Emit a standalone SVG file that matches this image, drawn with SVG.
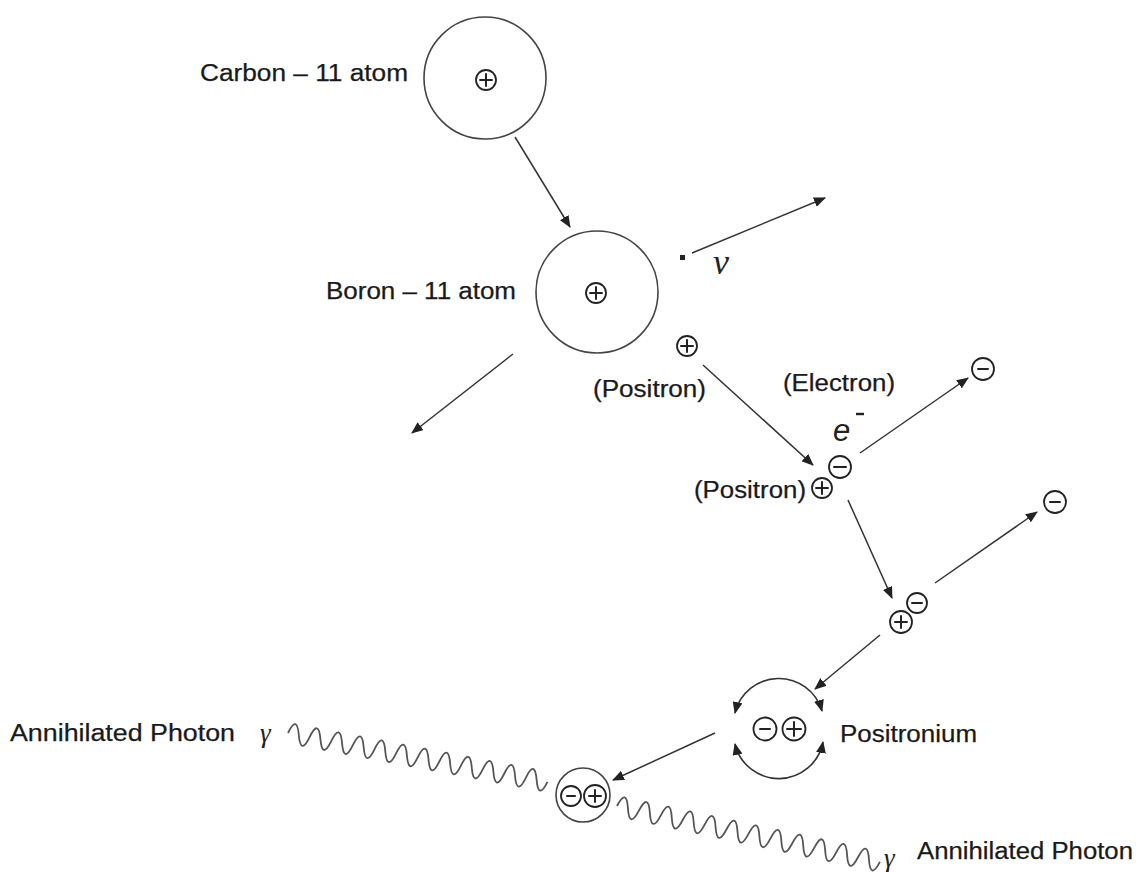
<svg xmlns="http://www.w3.org/2000/svg" width="1141" height="872" viewBox="0 0 1141 872">
  <defs>
    <marker id="head" viewBox="0 0 12 10" refX="11" refY="5" markerWidth="12" markerHeight="10" markerUnits="userSpaceOnUse" orient="auto-start-reverse">
      <path d="M0 0 L12 5 L0 10 Z" fill="#222"/>
    </marker>
    <style>
      .lbl { font-family: "Liberation Sans", Arial, sans-serif; font-size: 23px; fill: #1a1a1a; stroke: #1a1a1a; stroke-width: 0.25; }
      .greek { font-family: "Liberation Serif", "Times New Roman", serif; font-style: italic; fill: #222; }
      .atom { fill: none; stroke: #444; stroke-width: 1.6; }
      .chg { fill: #fff; stroke: #222; stroke-width: 1.8; }
      .sign { stroke: #222; stroke-width: 2; stroke-linecap: round; fill: none; }
      .arrow { stroke: #333; stroke-width: 1.5; fill: none; marker-end: url(#head); }
      .orbit { stroke: #333; stroke-width: 1.6; fill: none; marker-start: url(#head); marker-end: url(#head); }
      .wave { stroke: #555; stroke-width: 1.8; fill: none; stroke-linejoin: round; }
    </style>
  </defs>

  <rect width="1141" height="872" fill="#fff"/>

  <!-- connectors -->
  <g id="connectors">
    <path class="arrow" d="M515 137 L570 227"/>
    <path class="arrow" d="M692 253 L825 198"/>
    <path class="arrow" d="M513 354 L412 433"/>
    <path class="arrow" d="M703 365 L813 465"/>
    <path class="arrow" d="M860 453 L968 378"/>
    <path class="arrow" d="M848 500 L892 598"/>
    <path class="arrow" d="M935 583 L1037 512"/>
    <path class="arrow" d="M880 635 L815 689"/>
    <path class="arrow" d="M715 733 L613 780"/>
    <!-- positronium orbit arcs -->
    <path class="orbit" d="M735 713 A45 45 0 0 1 822 711"/>
    <path class="orbit" d="M735 744 A45 45 0 0 0 823 742"/>
    <!-- photon wave trains -->
    <path class="wave" transform="translate(288 733) rotate(10.67)" d="M0 0 q5.5 -20 11 0 t11 0 t11 0 t11 0 t11 0 t11 0 t11 0 t11 0 t11 0 t11 0 t11 0 t11 0 t11 0 t11 0 t11 0 t11 0 t11 0 t11 0 t11 0 t11 0 t11 0 t11 0 t11 0 t11 0"/>
    <path class="wave" transform="translate(617 806) rotate(12)" d="M0 0 q5.6 -20 11.2 0 t11.2 0 t11.2 0 t11.2 0 t11.2 0 t11.2 0 t11.2 0 t11.2 0 t11.2 0 t11.2 0 t11.2 0 t11.2 0 t11.2 0 t11.2 0 t11.2 0 t11.2 0 t11.2 0 t11.2 0 t11.2 0 t11.2 0 t11.2 0 t11.2 0 t11.2 0 t11.2 0"/>
  </g>

  <!-- Carbon-11 atom -->
  <g id="carbon">
    <circle class="atom" cx="485" cy="78" r="61"/>
    <circle class="chg" cx="486" cy="80" r="10" stroke-width="2.2"/>
    <path class="sign" d="M480 80 H492 M486 74 V86"/>
    <text class="lbl" x="200" y="81" textLength="208" lengthAdjust="spacingAndGlyphs">Carbon – 11 atom</text>
  </g>

  <!-- Boron-11 atom -->
  <g id="boron">
    <circle class="atom" cx="597" cy="292" r="61"/>
    <circle class="chg" cx="596" cy="293" r="10" stroke-width="2.2"/>
    <path class="sign" d="M590 293 H602 M596 287 V299"/>
    <text class="lbl" x="326" y="299" textLength="190" lengthAdjust="spacingAndGlyphs">Boron – 11 atom</text>
  </g>

  <!-- neutrino -->
  <g id="neutrino">
    <rect x="680" y="255" width="5" height="5" fill="#222"/>
    <text class="greek" x="713" y="274" font-size="36">ν</text>
  </g>

  <!-- emitted positron -->
  <g id="positron">
    <circle class="chg" cx="687" cy="346" r="10" stroke-width="1.6"/>
    <path class="sign" d="M681 346 H693 M687 340 V352" stroke-width="1.6"/>
    <text class="lbl" x="593" y="397" textLength="113" lengthAdjust="spacingAndGlyphs">(Positron)</text>
  </g>

  <!-- first positron-electron encounter -->
  <g id="encounter1">
    <circle class="chg" cx="840" cy="467" r="11"/>
    <path class="sign" d="M834 467 H846"/>
    <circle class="chg" cx="822" cy="488" r="10"/>
    <path class="sign" d="M816 488 H828 M822 482 V494"/>
    <text class="lbl" x="783" y="391" textLength="112" lengthAdjust="spacingAndGlyphs">(Electron)</text>
    <text x="833" y="441" font-family="Liberation Sans, Arial, sans-serif" font-style="italic" font-size="31" fill="#222">e</text>
    <path d="M856 414 H864" stroke="#222" stroke-width="2.4"/>
    <text class="lbl" x="694" y="498" textLength="112" lengthAdjust="spacingAndGlyphs">(Positron)</text>
  </g>

  <!-- scattered electrons -->
  <g id="electron1">
    <circle class="chg" cx="983" cy="369" r="11" stroke-width="1.6"/>
    <path class="sign" d="M978 369 H988"/>
  </g>
  <g id="electron2">
    <circle class="chg" cx="1055" cy="502" r="11" stroke-width="1.6"/>
    <path class="sign" d="M1050 502 H1060"/>
  </g>

  <!-- second positron-electron encounter -->
  <g id="encounter2">
    <circle class="chg" cx="917" cy="603" r="10" stroke="#555" stroke-width="1.5"/>
    <path class="sign" d="M912 603 H922" stroke="#444"/>
    <circle class="chg" cx="901" cy="622" r="11" stroke-width="2.6"/>
    <path class="sign" d="M895 622 H907 M901 616 V628" stroke-width="2.4"/>
  </g>

  <!-- positronium -->
  <g id="positronium">
    <circle class="chg" cx="765" cy="729" r="11.5" stroke="#555" stroke-width="1.6"/>
    <path class="sign" d="M760 729 H770"/>
    <circle class="chg" cx="794" cy="729" r="11.5" stroke-width="2.2"/>
    <path class="sign" d="M787 729 H801 M794 722 V736" stroke-width="2.4"/>
    <text class="lbl" x="840" y="742" textLength="137" lengthAdjust="spacingAndGlyphs">Positronium</text>
  </g>

  <!-- annihilation -->
  <g id="annihilation">
    <circle class="atom" cx="583" cy="795" r="27"/>
    <circle class="chg" cx="571" cy="796" r="10" stroke="#555" stroke-width="1.6"/>
    <path class="sign" d="M567 796 H575"/>
    <circle class="chg" cx="595" cy="796" r="11" stroke-width="2"/>
    <path class="sign" d="M589 796 H601 M595 790 V802"/>
  </g>

  <!-- photon labels -->
  <g id="photon1">
    <text class="lbl" x="10" y="741" textLength="225" lengthAdjust="spacingAndGlyphs">Annihilated Photon</text>
    <text class="greek" x="260" y="742" font-size="27">γ</text>
  </g>
  <g id="photon2">
    <text class="greek" x="884" y="867" font-size="27">γ</text>
    <text class="lbl" x="917" y="859" textLength="216" lengthAdjust="spacingAndGlyphs">Annihilated Photon</text>
  </g>
</svg>
